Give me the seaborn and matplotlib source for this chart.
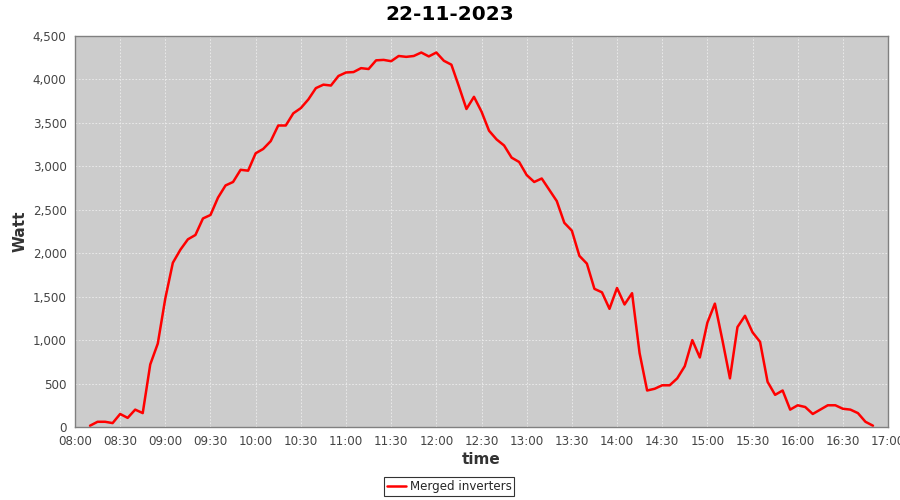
import pandas as pd
import matplotlib
matplotlib.use('Agg')
import matplotlib.pyplot as plt
import matplotlib.dates as mdates
import matplotlib.ticker as mticker
import seaborn as sns

# readings every 5 minutes, 08:10 .. 16:50
start_time = '2023-11-22 08:10'
watt = [15, 60, 60, 45, 150, 105, 200, 160, 720, 960,
        1480, 1890, 2040, 2160, 2210, 2400, 2440, 2640, 2780, 2820,
        2960, 2950, 3150, 3200, 3290, 3470, 3470, 3610, 3670, 3770,
        3900, 3940, 3930, 4040, 4080, 4085, 4130, 4120, 4220, 4225,
        4210, 4270, 4260, 4270, 4310, 4265, 4310, 4215, 4170, 3920,
        3660, 3800, 3630, 3410, 3310, 3240, 3100, 3050, 2900, 2820,
        2860, 2730, 2600, 2350, 2260, 1970, 1880, 1590, 1550, 1360,
        1600, 1410, 1540, 850, 420, 440, 480, 480, 560, 700,
        1000, 800, 1200, 1420, 1000, 560, 1150, 1280, 1090, 980,
        520, 370, 420, 200, 250, 230, 150, 200, 250, 250,
        210, 200, 160, 60, 15]
series_name = 'Merged inverters'
chart_title = '22-11-2023'

df = pd.DataFrame({'time': pd.date_range(start_time, periods=len(watt), freq='5min'),
                   'Watt': watt})

sns.set_style('white')
plt.rcParams['font.family'] = ['DejaVu Sans']

fig = plt.figure(figsize=(9, 5), dpi=100)
ax = fig.add_axes([0.0833, 0.146, 0.9034, 0.782])
ax.set_facecolor('#cccccc')

sns.lineplot(data=df, x='time', y='Watt', color='red', linewidth=1.8,
             label=series_name, ax=ax, legend=False)

ax.set_xlim(pd.Timestamp('2023-11-22 08:00'), pd.Timestamp('2023-11-22 17:00'))
ax.set_ylim(0, 4500)
ax.xaxis.set_major_locator(mdates.MinuteLocator(byminute=[0, 30]))
ax.xaxis.set_major_formatter(mdates.DateFormatter('%H:%M'))
ax.yaxis.set_major_locator(mticker.MultipleLocator(500))
ax.yaxis.set_major_formatter(mticker.FuncFormatter(lambda v, p: f'{int(v):,}'))

ax.grid(True, color='#eeeeee', linestyle=(0, (2, 2)), linewidth=0.6)
for s in ax.spines.values():
    s.set_color('#808080')
    s.set_linewidth(1)
ax.tick_params(axis='both', which='major', length=4, width=0.8, color='#999999',
               labelsize=8.6, labelcolor='#444444', direction='out', pad=2)

ax.set_xlabel('time', fontsize=11, fontweight='bold', color='#333333', labelpad=3)
ax.set_ylabel('Watt', fontsize=11, fontweight='bold', color='#333333', labelpad=4)
fig.suptitle(chart_title, x=0.5, y=0.99, fontsize=14.5, fontweight='bold', color='black')

handles, labels = ax.get_legend_handles_labels()
leg = fig.legend(handles, labels, loc='center', bbox_to_anchor=(0.499, 0.027), frameon=True,
                 fancybox=False, fontsize=8.6, handlelength=1.6, borderpad=0.25,
                 handletextpad=0.3)
leg.get_frame().set_edgecolor('black')
leg.get_frame().set_linewidth(0.8)

fig.savefig('out.png', dpi=100)
